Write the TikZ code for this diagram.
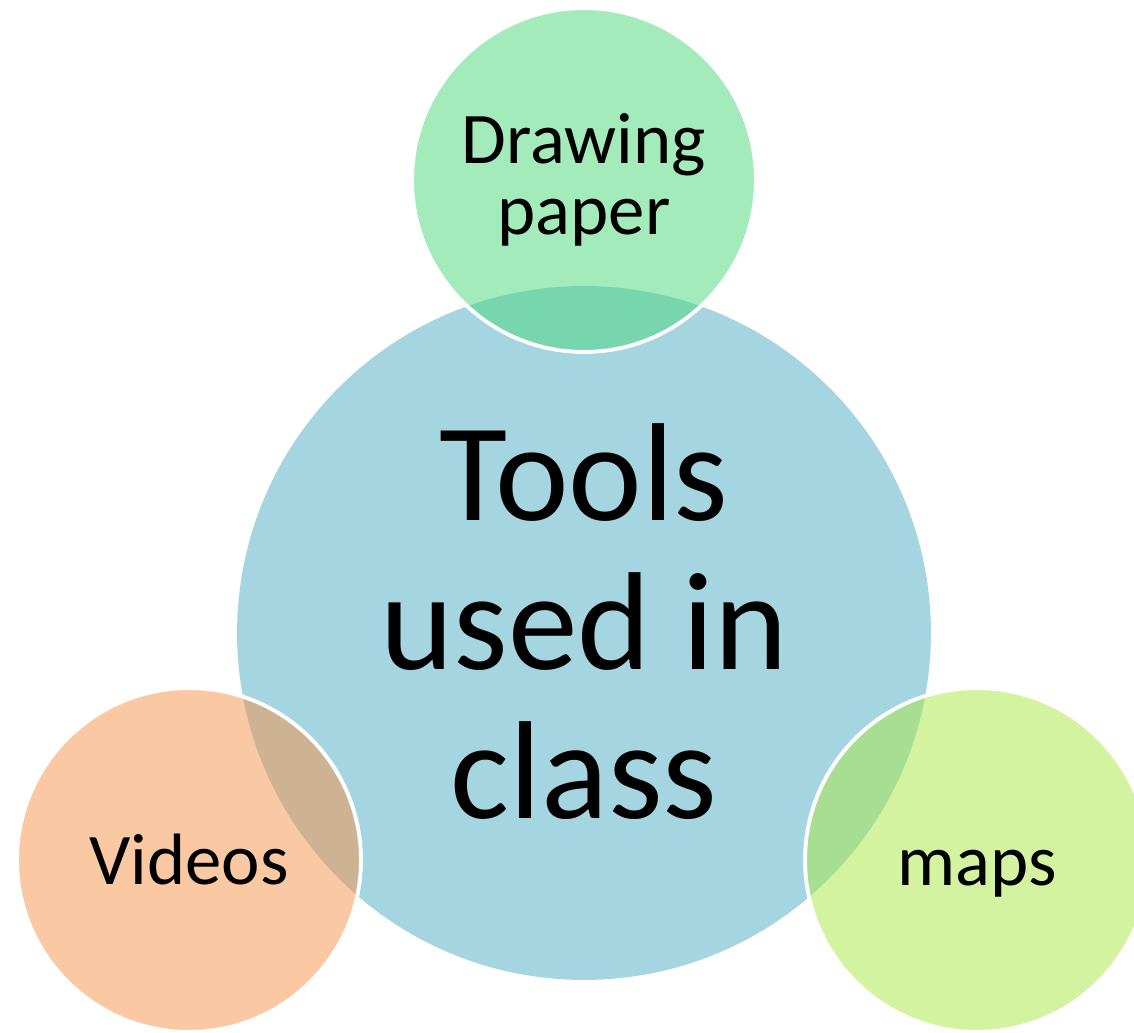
\documentclass[tikz,border=0pt]{standalone}
\usepackage{fontspec}
\setmainfont{Carlito}
\definecolor{centerblue}{RGB}{166,213,226}
\definecolor{topgreen}{RGB}{73,215,121}
\definecolor{leftorange}{RGB}{245,147,71}
\definecolor{rightlime}{RGB}{169,231,67}
\tikzset{
  bigcircle/.style={circle, inner sep=0pt, outer sep=0pt, minimum size=13.88cm,
    fill=centerblue, align=center, text=black, text depth=13.6pt,
    font=\fontsize{79.4}{85}\selectfont},
  smallcircle/.style={circle, inner sep=0pt, outer sep=0pt, minimum size=6.88cm,
    fill opacity=0.5, text opacity=1, draw=white, draw opacity=1,
    line width=2.2pt, align=center, text=black,
    font=\fontsize{41.4}{40.3}\selectfont},
}
\begin{document}
\begin{tikzpicture}[x=0.02cm,y=-0.02cm]
\useasboundingbox (0,0) rectangle (1134,1033);
\clip (0,0) rectangle (1134,1033);
\node[bigcircle] (center) at (584,633) {Tools\\used in\\class};
\node[smallcircle, fill=topgreen] (top) at (584,180) {Drawing\\paper};
\node[smallcircle, fill=leftorange] (left) at (189,860) {Videos};
\node[smallcircle, fill=rightlime, text depth=0pt] (right) at (977,860) {\vphantom{d}maps};
\end{tikzpicture}
\end{document}
